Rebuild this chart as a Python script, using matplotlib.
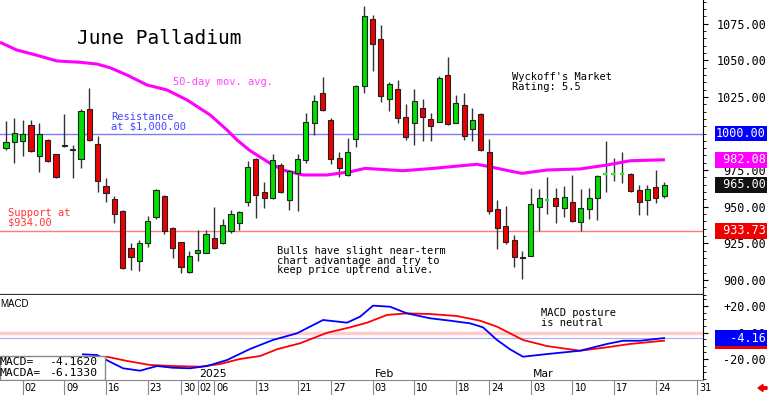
import numpy as np
import matplotlib
matplotlib.use("Agg")
import matplotlib.pyplot as plt
from matplotlib.patches import Rectangle, FancyArrow
from matplotlib.ticker import FixedLocator, MultipleLocator, FuncFormatter
from matplotlib.transforms import blended_transform_factory, IdentityTransform

# daily candles, index 0 = Nov 26 ... index 79 = Mar 25
opens = [989.9, 994.4, 994.9, 1005.8, 984.8, 995.6, 985.8, 992.3, 989.6, 982.4,
         1016.5, 992.6, 964.2, 955.1, 947.1, 922.0, 913.0, 925.5, 943.2, 957.3,
         935.7, 925.7, 905.7, 918.4, 918.6, 928.5, 925.0, 933.4, 939.1, 953.4,
         982.4, 959.9, 956.2, 978.5, 954.6, 972.8, 981.9, 1007.0, 1027.4, 1009.2,
         983.5, 971.7, 996.0, 1032.6, 1078.0, 1064.5, 1023.3, 1030.2, 1011.1, 1007.0,
         1017.6, 1009.7, 1008.1, 1039.7, 1007.4, 1019.5, 1002.9, 1013.3, 987.2, 948.3,
         937.1, 927.3, 915.0, 916.6, 949.6, 954.9, 955.8, 949.4, 953.4, 939.8,
         948.3, 956.2, 972.1, 972.4, 972.4, 972.1, 961.4, 954.6, 963.7, 957.5]
highs = [1008.5, 1010.8, 1009.2, 1009.2, 1007.4, 996.5, 986.0, 1013.1, 992.1, 1016.7,
         1031.3, 998.3, 969.4, 957.3, 947.5, 925.5, 927.3, 943.9, 961.9, 957.8,
         936.4, 926.2, 920.0, 934.1, 934.1, 950.0, 941.4, 947.8, 947.0, 981.4,
         983.3, 967.1, 986.0, 979.7, 975.1, 985.8, 1013.8, 1026.3, 1038.8, 1010.4,
         987.6, 997.1, 1033.1, 1087.0, 1080.9, 1074.1, 1035.4, 1036.5, 1020.1, 1030.2,
         1023.5, 1013.8, 1039.2, 1052.0, 1026.3, 1027.4, 1017.6, 1013.7, 996.0, 954.6,
         950.7, 930.7, 919.8, 963.0, 961.9, 970.5, 962.6, 964.2, 971.7, 961.9,
         962.6, 971.7, 995.1, 983.5, 987.6, 973.2, 964.8, 964.8, 975.1, 966.7]
lows = [988.5, 979.7, 984.6, 987.6, 973.9, 980.5, 969.4, 991.0, 969.4, 976.2,
        994.9, 960.3, 953.4, 938.7, 907.3, 906.8, 906.1, 922.7, 941.6, 931.2,
        914.8, 904.6, 904.6, 913.0, 918.2, 921.0, 924.4, 932.1, 934.1, 950.5,
        942.5, 949.4, 955.3, 959.2, 947.8, 947.3, 980.1, 999.0, 1015.6, 979.0,
        970.5, 971.2, 991.0, 1027.9, 1042.7, 1021.7, 1015.6, 1007.0, 995.6, 992.2,
        995.1, 994.9, 1007.7, 1005.8, 1007.2, 995.6, 995.1, 988.3, 944.8, 921.0,
        924.4, 909.1, 900.5, 916.4, 933.7, 945.0, 938.7, 942.8, 939.4, 933.7,
        941.4, 940.9, 960.3, 967.8, 966.4, 960.3, 944.4, 944.4, 952.8, 956.2]
closes = [994.4, 1000.1, 999.9, 988.3, 999.5, 981.4, 970.5, 991.4, 988.6, 1015.6,
          995.6, 967.8, 959.2, 944.8, 908.0, 915.5, 925.0, 940.5, 961.4, 933.6,
          921.6, 909.1, 916.6, 920.5, 931.2, 922.0, 937.5, 944.8, 946.2, 976.9,
          958.0, 956.2, 981.9, 960.3, 974.6, 982.4, 1008.1, 1022.2, 1016.0, 982.6,
          976.2, 987.2, 1032.4, 1080.4, 1060.9, 1025.6, 1033.6, 1010.4, 997.4, 1022.2,
          1011.1, 1005.3, 1037.7, 1006.3, 1020.6, 998.3, 1009.2, 988.7, 947.3, 935.7,
          926.1, 915.5, 916.0, 951.7, 955.8, 954.9, 950.7, 956.9, 940.5, 949.4,
          955.8, 971.2, 972.1, 972.4, 972.4, 960.7, 953.0, 961.9, 956.2, 965.0]

# 50-day moving average, read at these day positions
ma_idx = [-0.72, 1.28, 3.24, 6.12, 8.88, 10.92, 12.48, 14.53, 16.93, 19.33,
          21.73, 24.49, 26.53, 27.73, 29.29, 31.69, 33.25, 35.65, 38.54, 41.30,
          43.10, 47.66, 51.26, 56.54, 58.10, 60.50, 61.94, 64.95, 68.91, 72.15,
          74.91, 79.1]
ma_val = [1062.3, 1057.0, 1054.1, 1049.5, 1048.6, 1047.4, 1044.9, 1039.9, 1033.1, 1029.7,
          1022.9, 1012.7, 1002.4, 995.6, 988.3, 979.7, 975.1, 971.7, 971.7, 973.9,
          976.2, 974.6, 976.2, 979.0, 977.3, 974.4, 972.8, 975.1, 975.8, 978.5,
          981.4, 982.08]

# MACD (blue) and MACDA (red)
macd_idx = [9.24, 10.92, 12.48, 14.05, 16.09, 18.13, 20.05, 22.09, 24.13, 26.53,
            29.29, 32.05, 34.93, 38.06, 40.94, 42.50, 44.06, 46.10, 48.14, 50.90,
            53.30, 55.70, 57.26, 58.94, 60.50, 62.06, 64.95, 68.91, 72.15, 74.07,
            76.11, 79.0]
macd_val = [-16.4, -16.9, -22.0, -26.9, -28.7, -25.2, -26.5, -26.9, -25.2, -20.7,
            -12.4, -5.6, -0.6, 9.4, 7.4, 11.9, 20.2, 19.4, 14.4, 10.7,
            8.9, 6.9, 3.9, -5.6, -12.6, -18.2, -16.2, -13.7, -8.6, -6.2,
            -6.2, -4.162]
sig_idx = [12.12, 14.53, 17.29, 20.05, 23.29, 25.69, 28.09, 30.49, 32.53, 35.29,
           38.54, 41.30, 43.34, 45.74, 48.14, 50.90, 54.14, 56.90, 58.94, 60.50,
           62.06, 64.95, 68.91, 72.15, 74.91, 79.0]
sig_val = [-18.2, -21.4, -24.4, -25.2, -25.7, -23.7, -19.9, -17.7, -12.6, -8.1,
           -0.2, 3.9, 7.4, 13.2, 14.4, 13.9, 12.4, 8.9, 4.4, -0.6,
           -5.6, -10.2, -13.7, -11.1, -8.6, -6.133]

tick_idx = [2, 7, 12, 17, 21, 23, 25, 30, 35, 39, 44, 49, 54, 58, 63, 68, 73, 78, 83]
tick_lbl = ['02', '09', '16', '23', '30', '02', '06', '13', '21', '27',
            '03', '10', '18', '24', '03', '10', '17', '24', '31']
month_idx = [23, 44, 63]
month_lbl = ['2025', 'Feb', 'Mar']

main_ticks = [900, 925, 950, 975, 1025, 1050, 1075]
macd_ticks = [20, 0, -20]
resistance = 1000.0
support = 933.73
ma_last = 982.08
last_close = 965.00
macd_last = -4.1620
macda_last = -6.1330

MONO = 'DejaVu Sans Mono'
W, H = 768, 395
AX_R = 703

fig = plt.figure(figsize=(W / 100, H / 100), dpi=100)
ax = fig.add_axes([0, 1 - 295 / H, AX_R / W, 295 / H])
ax2 = fig.add_axes([0, 15 / H, AX_R / W, 85 / H])

for a in (ax, ax2):
    a.set_xlim(-0.72, 83.67)
    a.spines['left'].set_visible(False)
    a.spines['top'].set_visible(False)
    a.spines['right'].set_color('black')
    a.yaxis.tick_right()
ax.spines['bottom'].set_color('#333333')
ax.spines['bottom'].set_linewidth(1.6)
ax2.spines['bottom'].set_color('#888888')

ax.set_ylim(889.8, 1091.1)
ax2.set_ylim(-35.7, 28.2)


def main_pos(x, y):
    return x / AX_R, 1 - y / 295


def macd_pos(x, y):
    return x / AX_R, (380 - y) / 85


# candles
idx = np.arange(len(opens))
o = np.array(opens)
c = np.array(closes)
up = c > o
dn = c < o
dj = c == o
ax.vlines(idx, lows, highs, color='#333333', lw=1.0, zorder=2)
ax.bar(idx[up], (c - o)[up], bottom=o[up], width=0.62, color='#00dd00',
       edgecolor='#222222', linewidth=0.8, zorder=3)
ax.bar(idx[dn], (o - c)[dn], bottom=c[dn], width=0.62, color='#ee0000',
       edgecolor='#222222', linewidth=0.8, zorder=3)
ax.hlines(c[dj], idx[dj] - 0.35, idx[dj] + 0.35, color='#22ee22', lw=1.5,
          linestyles=(0, (2, 1.5)), zorder=3)

ax.plot(ma_idx, ma_val, color='#ff00ff', lw=2.2, zorder=2.5, solid_capstyle='butt')
ax.axhline(resistance, color='#7b7bff', lw=1.0, zorder=1)
ax.axhline(support, color='#ff7b7b', lw=1.0, zorder=1)

# right price axis
ax.tick_params(axis='x', bottom=False, labelbottom=False)
ax.yaxis.set_major_locator(FixedLocator(main_ticks))
ax.yaxis.set_minor_locator(MultipleLocator(5))
ax.yaxis.set_major_formatter(FuncFormatter(lambda v, p: f'{v:.2f}'))
ax.tick_params(axis='y', which='major', length=3.5, pad=41.9, labelsize=8.5,
               direction='out')
ax.tick_params(axis='y', which='minor', length=1.8, direction='out')
for lbl in ax.get_yticklabels():
    lbl.set_horizontalalignment('right')
    lbl.set_fontfamily(MONO)

tr = blended_transform_factory(ax.transAxes, ax.transData)
for val, col in [(resistance, '#0000ff'), (ma_last, '#ff00ff'),
                 (last_close, '#111111'), (support, '#ee0000')]:
    ax.text(766 / AX_R, val, f'{val:.2f}'.rjust(7), transform=tr, ha='right',
            va='center', color='white', fontsize=8.5, fontfamily=MONO,
            clip_on=False, zorder=10,
            bbox=dict(boxstyle='square,pad=0.12', fc=col, ec='none'))

# texts in price panel
ax.text(*main_pos(77, 39), 'June Palladium', transform=ax.transAxes,
        fontsize=14, fontfamily=MONO, ha='left', va='center')
ax.text(*main_pos(173, 82), '50-day mov. avg.', transform=ax.transAxes,
        fontsize=7.5, fontfamily=MONO, color='#ff44ff', ha='left', va='center')
ax.text(*main_pos(111, 122), 'Resistance\nat $1,000.00', transform=ax.transAxes,
        fontsize=7.5, fontfamily=MONO, color='#4444ff', ha='left', va='center',
        linespacing=0.9)
ax.text(*main_pos(8, 218), 'Support at\n$934.00', transform=ax.transAxes,
        fontsize=7.5, fontfamily=MONO, color='#ff3333', ha='left', va='center',
        linespacing=0.9)
ax.text(*main_pos(512, 82), "Wyckoff's Market\nRating: 5.5", transform=ax.transAxes,
        fontsize=7.5, fontfamily=MONO, color='black', ha='left', va='center',
        linespacing=0.9)
ax.text(*main_pos(277, 260.5),
        'Bulls have slight near-term\nchart advantage and try to\nkeep price uptrend alive.',
        transform=ax.transAxes, fontsize=7.5, fontfamily=MONO, color='black',
        ha='left', va='center', linespacing=0.9)

# MACD panel
ax2.axhline(0, color='#ffcccc', lw=2.5, zorder=1)
ax2.axhline(macd_last, color='#aaaaff', lw=0.8, zorder=1)
ax2.plot(sig_idx, sig_val, color='#ff0000', lw=1.3, zorder=3)
ax2.plot(macd_idx, macd_val, color='#0000ff', lw=1.3, zorder=3)

ax2.yaxis.set_major_locator(FixedLocator(macd_ticks))
ax2.yaxis.set_minor_locator(MultipleLocator(5))
ax2.yaxis.set_major_formatter(
    FuncFormatter(lambda v, p: f'{v:+.2f}' if v > 0 else f'{v:.2f}'))
ax2.tick_params(axis='y', which='major', length=3.5, pad=41.9, labelsize=8.5,
                direction='out')
ax2.tick_params(axis='y', which='minor', length=1.8, direction='out')
for lbl in ax2.get_yticklabels():
    lbl.set_horizontalalignment('right')
    lbl.set_fontfamily(MONO)

tr2 = blended_transform_factory(ax2.transAxes, ax2.transData)
for val, col, z in [(macda_last, '#ee0000', 9), (macd_last, '#0000ff', 10)]:
    ax2.text(766 / AX_R, val, f'{val:.2f}'.rjust(7), transform=tr2, ha='right',
             va='center', color='white', fontsize=8.5, fontfamily=MONO,
             clip_on=False, zorder=z,
             bbox=dict(boxstyle='square,pad=0.12', fc=col, ec='none'))

ax2.text(*macd_pos(0, 304), 'MACD', transform=ax2.transAxes, fontsize=7,
         fontfamily='Liberation Sans', ha='left', va='center')
ax2.text(*macd_pos(541, 318), 'MACD posture\nis neutral', transform=ax2.transAxes,
         fontsize=7.5, fontfamily=MONO, ha='left', va='center', linespacing=0.9)

ax2.add_patch(Rectangle((0, 0), 105 / AX_R, 24 / 85, transform=ax2.transAxes,
                        fc='white', ec='#888888', lw=1.0, zorder=8))
ax2.text(*macd_pos(-1, 362), 'MACD=', transform=ax2.transAxes, fontsize=8.2,
         fontfamily=MONO, ha='left', va='center', zorder=9)
ax2.text(*macd_pos(97, 362), f'{macd_last:.4f}', transform=ax2.transAxes,
         fontsize=8.2, fontfamily=MONO, ha='right', va='center', zorder=9)
ax2.text(*macd_pos(-1, 373), 'MACDA=', transform=ax2.transAxes, fontsize=8.2,
         fontfamily=MONO, ha='left', va='center', zorder=9)
ax2.text(*macd_pos(97, 373), f'{macda_last:.4f}', transform=ax2.transAxes,
         fontsize=8.2, fontfamily=MONO, ha='right', va='center', zorder=9)

# date axis
ax2.set_xticks(tick_idx)
ax2.tick_params(axis='x', direction='out', length=10.8, width=0.8,
                color='#888888', labelbottom=False)
for i, lbl in zip(tick_idx, tick_lbl):
    ax2.annotate(lbl, xy=(i, 0), xycoords=('data', 'axes fraction'),
                 xytext=(1.5, -5.8), textcoords='offset points', ha='left',
                 va='center', fontsize=7, annotation_clip=False)
for i, lbl in zip(month_idx, month_lbl):
    ax2.annotate(lbl, xy=(i, 0), xycoords=('data', 'axes fraction'),
                 xytext=(1.5, 4.3), textcoords='offset points', ha='left',
                 va='center', fontsize=7.8)

fig.add_artist(FancyArrow(767, H - 388, -9, 0, width=2.5, head_width=7,
                          head_length=5, length_includes_head=True,
                          color='#ee0000', transform=IdentityTransform()))

fig.savefig('out.png', dpi=100)
